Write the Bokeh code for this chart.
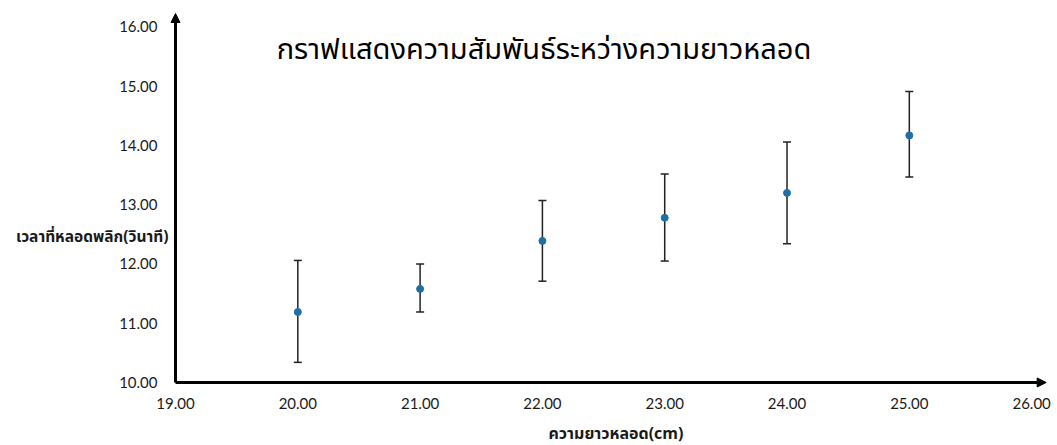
from bokeh.plotting import figure
from bokeh.models import (ColumnDataSource, Whisker, TeeHead, Arrow, NormalHead,
                          Label, FixedTicker, Range1d)
from bokeh.embed import file_html
from bokeh.resources import INLINE

# ---- data ----
length_cm = [20, 21, 22, 23, 24, 25]
time_s = [11.19, 11.58, 12.39, 12.78, 13.20, 14.17]
err_upper = [12.06, 12.00, 13.07, 13.52, 14.06, 14.91]
err_lower = [10.34, 11.19, 11.71, 12.05, 12.34, 13.47]
x_ticks = [19, 20, 21, 22, 23, 24, 25, 26]
y_ticks = [10, 11, 12, 13, 14, 15, 16]

title_text = "กราฟแสดงความสัมพันธ์ระหว่างความยาวหลอด"
y_label_text = "เวลาที่หลอดพลิก(วินาที)"
x_label_text = "ความยาวหลอด(cm)"

THAI = "Noto Sans Thai, Loma, Garuda, Tahoma, Noto Sans, sans-serif"
NUM = "Lato"

# the frame fills the whole canvas; axes are drawn at fixed data locations
x0, x1 = 17.5691, 26.2116
y0, y1 = 8.9367, 16.4472

p = figure(width=1057, height=445, output_backend="svg", toolbar_location=None,
           title=None, x_range=Range1d(x0, x1), y_range=Range1d(y0, y1),
           min_border_left=0, min_border_right=0, min_border_top=0,
           min_border_bottom=0)
p.outline_line_color = None
p.grid.visible = False

for ax in (p.xaxis, p.yaxis):
    ax.axis_line_color = None
    ax.major_tick_line_color = None
    ax.minor_tick_line_color = None
    ax.major_tick_in = 0
    ax.major_tick_out = 0
    ax.major_label_text_font = NUM
    ax.major_label_text_font_size = "15px"
    ax.major_label_text_color = "#1a1a1a"

p.xaxis.fixed_location = 10
p.yaxis.fixed_location = 19
p.xaxis.ticker = FixedTicker(ticks=x_ticks)
p.yaxis.ticker = FixedTicker(ticks=y_ticks)
p.xaxis.major_label_overrides = {t: f"{t:.2f}" for t in x_ticks}
p.yaxis.major_label_overrides = {t: f"{t:.2f}" for t in y_ticks}
p.xaxis.major_label_standoff = 16
p.yaxis.major_label_standoff = 18

src = ColumnDataSource(dict(x=length_cm, y=time_s, upper=err_upper, lower=err_lower))

p.add_layout(Arrow(x_start=19, y_start=10, x_end=26.119, y_end=10, line_width=3,
                   line_color="black",
                   end=NormalHead(size=9, fill_color="black", line_color="black")))
p.add_layout(Arrow(x_start=19, y_start=10, x_end=19, y_end=16.228, line_width=3,
                   line_color="black",
                   end=NormalHead(size=9, fill_color="black", line_color="black")))

p.add_layout(Whisker(source=src, base="x", upper="upper", lower="lower",
                     dimension="height", line_color="#222222", line_width=1.5,
                     upper_head=TeeHead(size=8, line_color="#222222", line_width=1.5),
                     lower_head=TeeHead(size=8, line_color="#222222", line_width=1.5)))

p.scatter("x", "y", source=src, size=7, fill_color="#1f6fa5", line_color="#1f6fa5")

p.add_layout(Label(x=22.013, y=15.62, text=title_text, text_font=THAI,
                   text_font_size="29px", text_align="center",
                   text_baseline="middle", text_color="black"))
p.add_layout(Label(x=18.9428, y=12.447, text=y_label_text, text_font=THAI,
                   text_font_size="15.5px", text_font_style="bold",
                   text_align="right", text_baseline="middle", text_color="#1a1a1a"))
p.add_layout(Label(x=22.050, y=9.139, text=x_label_text, text_font=THAI,
                   text_font_size="16px", text_font_style="bold",
                   text_align="left", text_baseline="middle", text_color="#1a1a1a"))

open("out.html", "w").write(file_html(p, INLINE))
